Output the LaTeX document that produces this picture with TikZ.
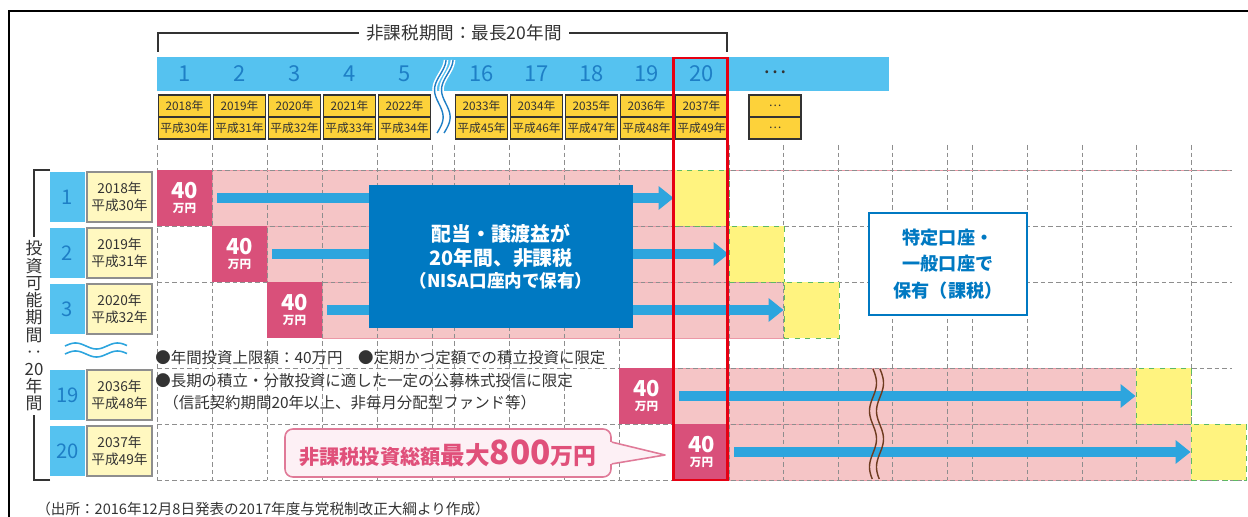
\documentclass[tikz,border=0pt]{standalone}
\usepackage{fontspec}
\setmainfont{Noto Sans CJK JP}
\usetikzlibrary{arrows.meta}

\definecolor{barblue}{HTML}{55C2F0}
\definecolor{numblue}{HTML}{1E7FC6}
\definecolor{yearyellow}{HTML}{FDD23A}
\definecolor{paleyellow}{HTML}{FFF8C0}
\definecolor{magenta40}{HTML}{D9507A}
\definecolor{bandpink}{HTML}{F5C5C6}
\definecolor{bandline}{HTML}{EC98A6}
\definecolor{endyellow}{HTML}{FFF37F}
\definecolor{arrowblue}{HTML}{2DA5DE}
\definecolor{boxblue}{HTML}{0079C2}
\definecolor{markred}{HTML}{E60012}
\definecolor{calloutfill}{HTML}{FDF0F5}
\definecolor{calloutline}{HTML}{E07A98}
\definecolor{callouttext}{HTML}{E0507A}
\definecolor{gridgray}{HTML}{8E8E8E}
\definecolor{textgray}{HTML}{333333}
\definecolor{wavebrown}{HTML}{6E3B1F}
\definecolor{dashgreen}{HTML}{5DBB63}

\begin{document}
\begin{tikzpicture}[x=0.02cm, y=-0.02cm,
    gridline/.style={draw=gridgray, line width=0.5pt, dash pattern=on 2.6pt off 1.7pt},
    bracketline/.style={draw=textgray, line width=0.6pt},
    colnum/.style={text=numblue, inner sep=0pt, font=\fontsize{12.5}{14}\selectfont},
    yearbox/.style={draw=textgray, line width=0.6pt, fill=yearyellow, inner sep=0pt,
        minimum width=52*0.02cm, minimum height=22*0.02cm, text=textgray,
        font=\fontsize{6.7}{7}\selectfont},
    rowblue/.style={fill=barblue, text=numblue, inner sep=0pt,
        minimum width=35*0.02cm, minimum height=50*0.02cm, font=\fontsize{11.5}{13}\selectfont},
    rowyear/.style={draw=gridgray, line width=0.6pt, fill=paleyellow, inner sep=0pt,
        minimum width=65*0.02cm, minimum height=50*0.02cm, align=center, text=textgray,
        font=\fontsize{7.8}{10}\selectfont},
    fortybox/.style={fill=magenta40, text=white, inner sep=0pt, align=center,
        minimum width=55*0.02cm, minimum height=56*0.02cm,
        font=\bfseries\fontsize{12.5}{11}\selectfont},
    endbox/.style={fill=endyellow, draw=dashgreen, dashed, line width=0.5pt, inner sep=0pt,
        minimum width=55*0.02cm, minimum height=56*0.02cm},
    bigarrow/.style={draw=arrowblue, line width=6.2pt, -{Triangle[length=8.5pt, width=13pt]}},
    taxfree/.style={fill=boxblue, text=white, align=center, inner sep=0pt,
        minimum width=264*0.02cm, minimum height=143*0.02cm,
        font=\bfseries\fontsize{11.3}{14}\selectfont},
    taxed/.style={fill=white, draw=boxblue, line width=1.5pt, text=boxblue, align=center,
        inner sep=0pt, minimum width=158*0.02cm, minimum height=102*0.02cm,
        font=\bfseries\fontsize{10.3}{15}\selectfont},
    note/.style={text=textgray, inner sep=0pt, anchor=west, font=\fontsize{8.8}{10}\selectfont},
    callbox/.style={draw=calloutline, line width=0.9pt, fill=calloutfill, rounded corners=4.5pt,
        minimum width=326*0.02cm, minimum height=48*0.02cm, inner sep=0pt, text=callouttext},
    vlabel/.style={text=textgray, align=center, inner sep=2pt, font=\fontsize{9.6}{9.8}\selectfont},
  ]
  \useasboundingbox (0,0) rectangle (1248,517);

  % frame
  \draw[black, line width=1.2pt] (1248,11) -- (9,11) -- (9,517);

  % header: tax-free period
  \node[text=textgray, inner xsep=4pt, font=\fontsize{10}{12}\selectfont] (ttl) at (464,33) {非課税期間：最長20年間};
  \coordinate (tl) at (158,52);
  \coordinate (tr) at (727,52);
  \draw[bracketline] (tl) |- (ttl.west);
  \draw[bracketline] (tr) |- (ttl.east);

  \fill[barblue] (157,57) rectangle (889,91);
  \foreach \col/\num/\yr/\hs in {157/1/2018/30, 212/2/2019/31, 267/3/2020/32, 322/4/2021/33,
      377/5/2022/34, 454/16/2033/45, 509/17/2034/46, 564/18/2035/47, 619/19/2036/48, 674/20/2037/49}
  {
    \node[colnum] (n\num) at (\col+27.5,74) {\num};
    \node[yearbox] (y\num) at (\col+27.5,106) {\yr{}年};
    \node[yearbox] (h\num) at (\col+27.5,128) {平成\hs{}年};
  }
  \node[colnum, text=textgray] (ndots) at (775,72) {…};
  \node[yearbox] (ydots) at (775,106) {…};
  \node[yearbox] (hdots) at (775,128) {…};

  % break in the header
  \foreach \off in {0,7}
  {
    \draw[white, line width=2.6pt] plot[domain=60:133, samples=50, variable=\yy]
      ({441+\off-0.05*(\yy-60)+5*cos((\yy-60)/58*360)}, \yy);
    \draw[numblue, line width=0.8pt] plot[domain=60:133, samples=50, variable=\yy]
      ({441+\off-0.05*(\yy-60)+5*cos((\yy-60)/58*360)}, \yy);
  }

  % tax-free bands
  \foreach \yt/\bx in {170/157, 226/212, 282/267, 368/619, 424/674}
    \filldraw[fill=bandpink, draw=bandline, line width=0.5pt] (\bx+55,\yt) rectangle (\bx+517,\yt+56);

  % grid
  \foreach \x in {157,212,267,322,377,432,454,509,564,619,674,729,783.5,838,892.5,947,972,1027,1082,1136.5,1191.5}
    \draw[gridline] (\x,145) -- (\x,480);
  \draw[bandline, line width=0.5pt] (157,170) -- (1232,170);
  \foreach \y/\e in {170/1232, 226/1232, 282/1232, 368/1232, 424/1246, 480/1246}
    \draw[gridline] (157,\y) -- (\e,\y);

  % years of investment
  \foreach \yt/\num/\yr/\hs/\bx in {170/1/2018/30/157, 226/2/2019/31/212, 282/3/2020/32/267,
      368/19/2036/48/619, 424/20/2037/49/674}
  {
    \node[rowblue] (rn\num) at (67.5,\yt+27) {\num};
    \node[rowyear] (ry\num) at (119.5,\yt+27) {\yr{}年\\平成\hs{}年};
    \node[fortybox] (f\num) at (\bx+27.5,\yt+28) {40\\[-3pt]{\fontsize{6.6}{8}\selectfont 万円}};
    \node[endbox] (e\num) at (\bx+544.5,\yt+28) {};
    \draw[bigarrow] ([xshift=2.8pt]f\num.east) -- (e\num.west);
  }

  \node[taxfree] (tf) at (501,256.5) {配当・譲渡益が\\20年間、非課税\\[-1.5pt]{\fontsize{10}{12}\selectfont （NISA口座内で保有）}};
  \node[taxed] (tx) at (948,264) {特定口座・\\一般口座で\\保有（課税）};

  % skipped years
  \foreach \off in {0,7}
    \draw[wavebrown, line width=0.8pt] plot[domain=369:479, samples=60, variable=\yy]
      ({873+\off+3.5*sin((\yy-369)/56*360)}, \yy);
  \foreach \off in {0,8}
    \draw[arrowblue, line width=0.9pt] plot[domain=65:127, samples=40, variable=\yy]
      (\yy, {346+\off-3*sin((\yy-65)/42*360)});

  % left bracket
  \node[vlabel] (vt) at (34,326) {投\\資\\可\\能\\期\\間\\‥\\20\\年\\間};
  \coordinate (vtop) at (50,170);
  \coordinate (vbot) at (50,480);
  \draw[bracketline] (vtop) -| (vt.north);
  \draw[bracketline] (vbot) -| (vt.south);

  % conditions
  \node[note] (nt1) at (155,358) {●年間投資上限額：40万円　●定期かつ定額での積立投資に限定};
  \node[note] (nt2) at (155,381) {●長期の積立・分散投資に適した一定の公募株式投信に限定};
  \node[note] (nt3) at (163,403) {（信託契約期間20年以上、非毎月分配型ファンド等）};

  % total
  \node[callbox] (cb) at (448,453) {\bfseries\fontsize{11.5}{12}\selectfont 非課税投資総額{\fontsize{14}{14}\selectfont 最大}{\fontsize{19}{19}\selectfont 800}{\fontsize{13}{13}\selectfont 万円}};
  \coordinate (ctip) at (665,455);
  \fill[calloutfill] ([xshift=-3pt,yshift=6.2pt]cb.east) -- ([yshift=6.2pt]cb.east) -- (ctip)
    -- ([yshift=-6.2pt]cb.east) -- ([xshift=-3pt,yshift=-6.2pt]cb.east) -- cycle;
  \draw[calloutline, line width=0.9pt, line join=round] ([yshift=6.2pt]cb.east) -- (ctip) -- ([yshift=-6.2pt]cb.east);

  % year 20 highlight
  \draw[markred, line width=1.7pt] (673.5,58) rectangle (727.5,480);

  \node[anchor=west, inner sep=0pt, text=textgray, font=\fontsize{8.3}{10}\selectfont] (src) at (36,509)
    {（出所：2016年12月8日発表の2017年度与党税制改正大綱より作成）};
\end{tikzpicture}
\end{document}
